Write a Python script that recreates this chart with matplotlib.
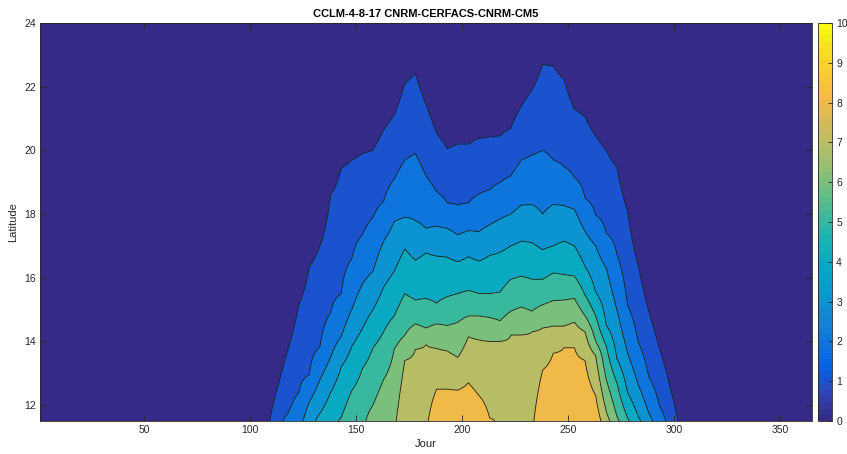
import numpy as np
import matplotlib
matplotlib.use('Agg')
import matplotlib.pyplot as plt
from matplotlib.colors import LinearSegmentedColormap, Normalize
from matplotlib.cm import ScalarMappable

plt.rcParams['font.family'] = ['Liberation Sans', 'DejaVu Sans']

title = 'CCLM-4-8-17 CNRM-CERFACS-CNRM-CM5'
nan = np.nan

# day columns at which the contour tops were read
days = [103, 108, 113, 118, 123, 128, 133, 138, 143, 148, 153, 158, 163, 168,
        173, 178, 183, 188, 193, 198, 203, 208, 213, 218, 223, 228, 233, 238,
        243, 248, 253, 258, 263, 268, 273, 278, 283, 288, 293, 298, 303]

# upper latitude of the region where value >= k (nan = level not reached)
top_1 = [nan, nan, 12.55, 13.77, 15.15, 16.35, 17.0, 18.6, 19.44, 19.7, 19.9,
         20.0, 20.64, 21.1, 22.1, 22.42, 21.45, 20.55, 20.05, 20.2, 20.2,
         20.38, 20.42, 20.46, 20.7, 21.4, 21.9, 22.7, 22.65, 22.24, 21.3,
         21.05, 20.45, 20.0, 19.45, 18.1, 16.4, 14.95, 13.8, 12.58, nan]
top_2 = [nan, nan, nan, 11.75, 12.4, 12.95, 13.83, 14.9, 15.5, 16.6, 17.35,
         17.9, 18.4, 19.1, 19.7, 19.9, 19.2, 18.7, 18.35, 18.28, 18.35, 18.63,
         18.76, 19.0, 19.2, 19.7, 19.85, 20.0, 19.7, 19.49, 19.15, 18.5,
         17.97, 17.4, 16.75, 15.15, 14.0, 12.9, 12.0, nan, nan]
top_3 = [nan, nan, nan, nan, nan, 12.1, 12.8, 13.5, 14.15, 15.0, 15.8, 16.2,
         17.15, 17.76, 17.9, 17.8, 17.55, 17.62, 17.55, 17.35, 17.48, 17.45,
         17.66, 17.85, 18.0, 18.28, 18.3, 18.0, 18.3, 18.27, 18.15, 17.45,
         17.0, 16.3, 15.0, 13.65, 12.65, 11.75, nan, nan, nan]
top_4 = [nan, nan, nan, nan, nan, nan, 11.75, 12.4, 13.2, 13.85, 14.4, 15.0,
         15.7, 16.2, 16.9, 16.55, 16.78, 16.68, 16.65, 16.5, 16.66, 16.52,
         16.7, 16.8, 17.0, 17.15, 17.1, 16.88, 17.0, 17.15, 17.0, 16.35,
         15.55, 14.5, 13.45, 12.4, 11.65, nan, nan, nan, nan]
top_5 = [nan, nan, nan, nan, nan, nan, nan, nan, 11.6, 12.45, 13.15, 13.8,
         14.3, 14.8, 15.5, 15.3, 15.35, 15.2, 15.4, 15.5, 15.6, 15.5, 15.5,
         15.55, 15.95, 16.05, 15.95, 15.95, 16.15, 16.1, 16.05, 15.45, 14.8,
         13.85, 12.7, 11.6, nan, nan, nan, nan, nan]
top_6 = [nan, nan, nan, nan, nan, nan, nan, nan, nan, nan, nan, 12.0, 12.8,
         13.75, 14.2, 14.55, 14.42, 14.55, 14.5, 14.6, 14.8, 14.8, 14.75,
         14.65, 14.95, 15.08, 14.95, 15.15, 15.28, 15.3, 15.35, 14.8, 14.0,
         12.8, 11.65, nan, nan, nan, nan, nan, nan]
top_7 = [nan, nan, nan, nan, nan, nan, nan, nan, nan, nan, nan, nan, nan, nan,
         13.4, 13.75, 13.9, 13.78, 13.7, 13.5, 14.15, 14.05, 14.0, 14.0, 14.2,
         14.2, 14.3, 14.42, 14.48, 14.48, 14.6, 14.3, 13.55, 11.8, nan, nan,
         nan, nan, nan, nan, nan]
top_8 = [nan, nan, nan, nan, nan, nan, nan, nan, nan, nan, nan, nan, nan, nan,
         nan, nan, nan, 12.5, 12.5, 12.47, 12.7, 12.3, 11.6, nan, nan, nan,
         nan, 13.1, 13.63, 13.8, 13.8, 13.4, 12.3, nan, nan, nan, nan, nan,
         nan, nan, nan]

# MATLAB parula, sampled from its 64 entries
parula_pts = [
    (0.2081, 0.1663, 0.5292), (0.1959, 0.2645, 0.7279), (0.0117, 0.3875, 0.8820),
    (0.0498, 0.4586, 0.8641), (0.0793, 0.5200, 0.8312), (0.0343, 0.5966, 0.8199),
    (0.0228, 0.6535, 0.7768), (0.0843, 0.6928, 0.7062), (0.2178, 0.7250, 0.6193),
    (0.3953, 0.7459, 0.5244), (0.5709, 0.7485, 0.4494), (0.7184, 0.7411, 0.3905),
    (0.8507, 0.7299, 0.3360), (0.9739, 0.7314, 0.2666), (0.9880, 0.8066, 0.1794),
    (0.9589, 0.8949, 0.1132), (0.9763, 0.9831, 0.0538)]
pos = [min((4 * i) / 63, 1.0) for i in range(len(parula_pts))]
parula = LinearSegmentedColormap.from_list('parula', list(zip(pos, parula_pts)), N=64)


def column_profile(tops, lat):
    # one extra level below the highest one so the bottom band is filled
    tops = np.append(np.array(tops, dtype=float), nan)
    ks = np.arange(1, len(tops) + 1)
    present = ~np.isnan(tops)
    kmax = ks[present].max() if present.any() else 0
    t = np.where(present, tops, 11.5 - 0.5 * (ks - kmax))
    xp = np.concatenate([t[::-1], [t[0] + 1.5]])
    fp = np.concatenate([ks[::-1], [0.3]]).astype(float)
    return np.interp(lat, xp, fp)


tops = np.array([top_1, top_2, top_3, top_4, top_5, top_6, top_7, top_8])
cols = [1] + days + [365]
lat = np.linspace(11.5, 24, 626)
Z = np.empty((len(lat), len(cols)))
for j, d in enumerate(cols):
    if d in days:
        Z[:, j] = column_profile(tops[:, days.index(d)], lat)
    else:
        Z[:, j] = column_profile([nan] * 8, lat)

fig = plt.figure(figsize=(8.47, 4.54), dpi=100)
ax = fig.add_axes([40 / 847, 33 / 454, 772 / 847, 398 / 454])
levels = np.arange(0, 11)
fill_colors = [parula(k / 10) for k in range(10)]
ax.contourf(cols, lat, Z, levels=levels, colors=fill_colors)
ax.contour(cols, lat, Z, levels=levels[1:], colors='#1a1a1a', linewidths=0.6)

ax.set_xlim(1, 365)
ax.set_ylim(11.5, 24)
ax.set_xticks([50, 100, 150, 200, 250, 300, 350])
ax.set_yticks([12, 14, 16, 18, 20, 22, 24])
ax.tick_params(direction='in', top=True, right=True, length=4, width=0.6,
               labelsize=7.5, colors='#262626', pad=3)
for s in ax.spines.values():
    s.set_color('#262626')
    s.set_linewidth(0.6)
ax.set_xlabel('Jour', fontsize=8, color='#262626', labelpad=3)
ax.set_ylabel('Latitude', fontsize=8, color='#262626', labelpad=4)
ax.set_title(title, fontsize=8, fontweight='bold', pad=4)

cax = fig.add_axes([818 / 847, 33 / 454, 14 / 847, 398 / 454])
cb = fig.colorbar(ScalarMappable(norm=Normalize(0, 10), cmap=parula), cax=cax)
cb.set_ticks(range(0, 11))
cb.ax.tick_params(direction='in', length=3, width=0.6, labelsize=7.5,
                  colors='#262626', pad=3)
cb.outline.set_edgecolor('#262626')
cb.outline.set_linewidth(0.6)

fig.savefig('out.png', dpi=100)
